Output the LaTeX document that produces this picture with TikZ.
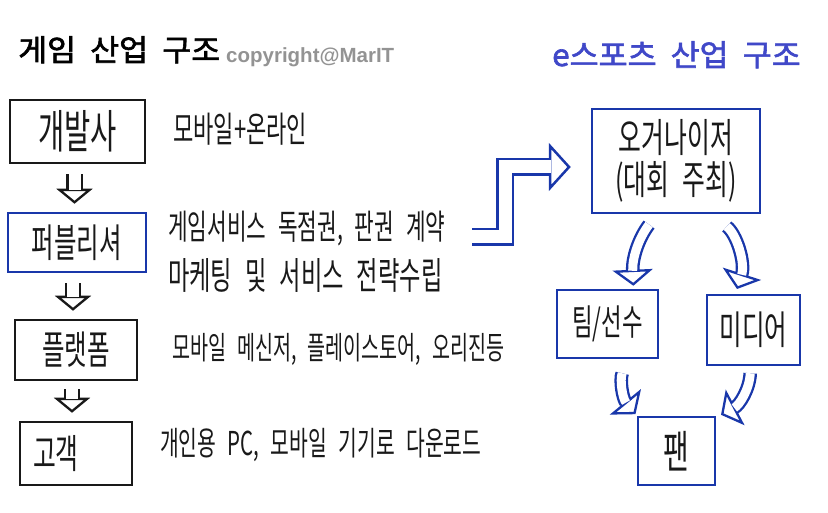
\documentclass[tikz,border=0pt]{standalone}
\usepackage{fontspec}
\usetikzlibrary{arrows.meta}
\newfontfamily\hand[FakeStretch=0.62,WordSpace=2.5]{Noto Sans CJK KR}
\newfontfamily\titlekr[FakeStretch=1.05,WordSpace=2,FakeBold=2]{Noto Sans CJK KR}
\newfontfamily\latinsans{Liberation Sans}
\definecolor{penblue}{RGB}{25,55,170}
\definecolor{titleblue}{RGB}{64,72,200}
\definecolor{ink}{RGB}{25,25,25}
\newcommand{\fsz}[1]{\fontsize{#1}{#1}\selectfont}

\begin{document}
\begin{tikzpicture}[x=1pt,y=1pt,
  box/.style={draw=ink,line width=2.5pt,inner sep=0pt,text=ink},
  bluebox/.style={box,draw=penblue},
  note/.style={anchor=west,inner sep=0pt,text=ink},
  tiphollow/.style={draw=white,line width=1pt,-{Triangle[color=#1,fill=white,line width=2.3pt,length=15pt,width=36pt]}},
  tiphollow/.default=penblue,
  curvetip/.style={draw=white,line width=1pt,-{Triangle[color=penblue,fill=white,line width=2.3pt,length=16pt,width=40pt]}},
  bigtip/.style={draw=white,line width=1pt,-{Triangle[color=penblue,fill=white,line width=2.5pt,length=22pt,width=48pt]}},
  shafthollow/.style={draw=#1,double=white,double distance=12pt,line width=2.3pt},
  shafthollow/.default=penblue]
\useasboundingbox (0,0) rectangle (828,512);

% titles
\node[anchor=base west,inner sep=0pt,font=\titlekr\fsz{30}] (gtitle) at (18,451) {게임 산업 구조};
\node[anchor=base west,inner sep=0pt,font=\latinsans\bfseries\fsz{20.5},text=gray!85] (copy) at (226,449) {copyright@MarIT};
\node[anchor=base west,inner sep=0pt,font=\titlekr\fsz{30},text=titleblue] (etitle) at (552,446) {e스포츠 산업 구조};

% game industry
\node[box,minimum width=135pt,minimum height=63pt,font=\hand\fsz{46}] (dev) at (77.5,380.5) {개발사};
\node[bluebox,minimum width=138pt,minimum height=59pt,font=\hand\fsz{39.5}] (pub) at (77,269.5) {퍼블리셔};
\node[box,minimum width=122pt,minimum height=60pt,font=\hand\fsz{39.5}] (plat) at (76,162) {플랫폼};
\node[box,minimum width=112pt,minimum height=63pt,text width=86pt,align=left,inner xsep=13pt,font=\hand\fsz{40}] (cust) at (76,58.5) {고객};

\node[note,font=\hand\fsz{35.6}] (dtxt) at (173,383) {모바일+온라인};
\node[note,font=\hand\fsz{34.4}] (ptxta) at (168,283) {게임서비스 독점권, 판권 계약};
\node[note,font=\hand\fsz{37.5}] (ptxtb) at (168,237) {마케팅 및 서비스 전략수립};
\node[note,font=\hand\fsz{31.6}] (ftxt) at (172,163) {모바일 메신저, 플레이스토어, 오리진등};
\node[note,font=\hand\fsz{32.9}] (ctxt) at (160,67) {개인용 PC, 모바일 기기로 다운로드};

\draw[tiphollow=ink,shorten <=10pt,shorten >=8pt] ([xshift=-3pt]dev.south) -- ([xshift=-3pt]dev.south |- pub.north);
\draw[shafthollow=ink,shorten <=10pt,shorten >=22pt] ([xshift=-3pt]dev.south) -- ([xshift=-3pt]dev.south |- pub.north);
\draw[tiphollow=ink,shorten <=10pt,shorten >=8pt] ([xshift=-4pt]pub.south) -- ([xshift=-4pt]pub.south |- plat.north);
\draw[shafthollow=ink,shorten <=10pt,shorten >=22pt] ([xshift=-4pt]pub.south) -- ([xshift=-4pt]pub.south |- plat.north);
\draw[tiphollow=ink,shorten <=8pt,shorten >=8pt] ([xshift=-4pt]plat.south) -- ([xshift=-4pt]plat.south |- cust.north);
\draw[shafthollow=ink,shorten <=8pt,shorten >=22pt] ([xshift=-4pt]plat.south) -- ([xshift=-4pt]plat.south |- cust.north);

% esports industry
\node[bluebox,minimum width=168pt,minimum height=104pt,align=center,font=\hand\fontsize{40}{42}\selectfont] (org) at (676,351) {오거나이저\\(대회 주최)};
\node[bluebox,minimum width=101pt,minimum height=68pt,font=\hand\fsz{36}] (team) at (607.5,188) {팀/선수};
\node[bluebox,minimum width=93pt,minimum height=70pt,font=\hand\fsz{39.5}] (media) at (753.5,182) {미디어};
\node[bluebox,minimum width=77pt,minimum height=68pt,font=\hand\fsz{45}] (fan) at (676.5,61) {팬};

\coordinate (tail) at (472,275);
\draw[bigtip,shorten >=20pt] (tail) -- (505,275) |- ([yshift=-6pt]org.west);
\draw[shafthollow,double distance=13pt,line width=2.5pt,shorten >=40pt] (tail) -- (505,275) |- ([yshift=-6pt]org.west);

\draw[curvetip,shorten <=13pt,shorten >=3pt] ([xshift=-19pt]org.south) to[bend right=20] ([xshift=26pt]team.north);
\draw[shafthollow,double distance=9pt,shorten <=13pt,shorten >=18pt] ([xshift=-19pt]org.south) to[bend right=20] ([xshift=26pt]team.north);
\draw[curvetip,shorten <=20pt,shorten >=5pt] ([xshift=35pt]org.south) to[bend left=35] ([xshift=-18pt]media.north);
\draw[shafthollow,double distance=9pt,shorten <=20pt,shorten >=20pt] ([xshift=35pt]org.south) to[bend left=35] ([xshift=-18pt]media.north);
\draw[curvetip,shorten <=15pt,shorten >=2pt] ([xshift=20pt]team.south) to[bend right=30] (fan.north west);
\draw[shafthollow,double distance=9pt,shorten <=15pt,shorten >=17pt] ([xshift=20pt]team.south) to[bend right=30] (fan.north west);
\draw[curvetip,shorten <=7pt,shorten >=2pt] ([xshift=-3pt]media.south) to[bend left=30] ([xshift=3pt]fan.north east);
\draw[shafthollow,double distance=9pt,shorten <=7pt,shorten >=17pt] ([xshift=-3pt]media.south) to[bend left=30] ([xshift=3pt]fan.north east);

\end{tikzpicture}
\end{document}
